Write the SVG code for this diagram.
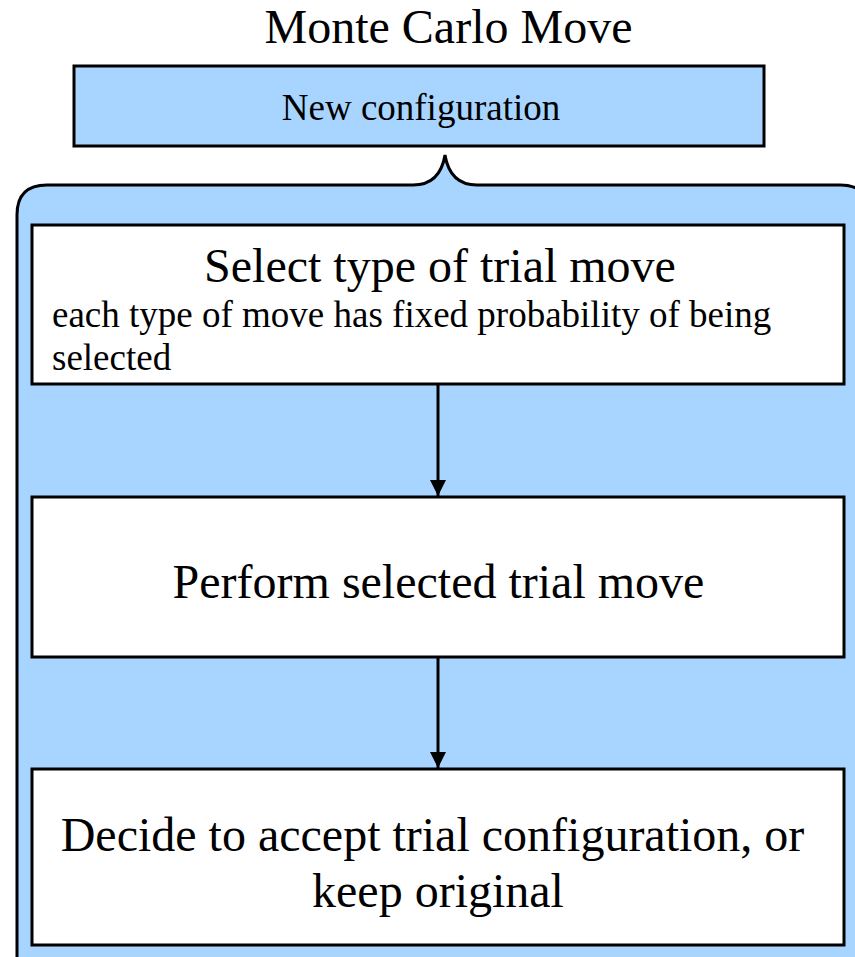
<svg xmlns="http://www.w3.org/2000/svg" width="855" height="957" viewBox="0 0 855 957">
<defs>
<marker id="ah" markerWidth="16" markerHeight="16" refX="16" refY="8" orient="auto" markerUnits="userSpaceOnUse" viewBox="0 0 16 16">
<path d="M0,0 L16,8 L0,16 Z" fill="#000"/>
</marker>
</defs>
<style>
.t{font-family:"Liberation Serif","Times New Roman",serif;fill:#000}
.box{fill:#fff;stroke:#000;stroke-width:3}
.blue{fill:#a8d5ff;stroke:#000;stroke-width:3}
.conn{stroke:#000;stroke-width:3;fill:none}
</style>
<rect width="855" height="957" fill="#fff"/>
<text class="t" x="448.5" y="43" font-size="48" text-anchor="middle">Monte Carlo Move</text>
<g id="top">
<rect class="blue" x="74" y="66" width="690" height="80"/>
<text class="t" x="421" y="120" font-size="37" text-anchor="middle">New configuration</text>
</g>
<g id="container">
<path class="blue" d="M17,975 L17,215 Q17,185 47,185 L413,185 Q440,185 445,155 Q450,185 477,185 L840,185 Q870,185 870,215 L870,975 Z"/>
</g>
<g id="n1">
<rect class="box" x="32" y="225" width="812" height="159"/>
<text class="t" x="440" y="282" font-size="48" text-anchor="middle">Select type of trial move</text>
<text class="t" x="52" y="327" font-size="37">each type of move has fixed probability of being</text>
<text class="t" x="52" y="370" font-size="37">selected</text>
</g>
<g id="n2">
<rect class="box" x="32" y="497" width="812" height="160"/>
<text class="t" x="438.5" y="598" font-size="48" text-anchor="middle">Perform selected trial move</text>
</g>
<g id="n3">
<rect class="box" x="32" y="769" width="812" height="176"/>
<text class="t" x="432.5" y="851" font-size="48" text-anchor="middle">Decide to accept trial configuration, or</text>
<text class="t" x="438" y="907" font-size="48" text-anchor="middle">keep original</text>
</g>
<g id="connectors">
<line class="conn" x1="438" y1="385" x2="438" y2="496" marker-end="url(#ah)"/>
<line class="conn" x1="438" y1="658" x2="438" y2="768" marker-end="url(#ah)"/>
</g>
</svg>
